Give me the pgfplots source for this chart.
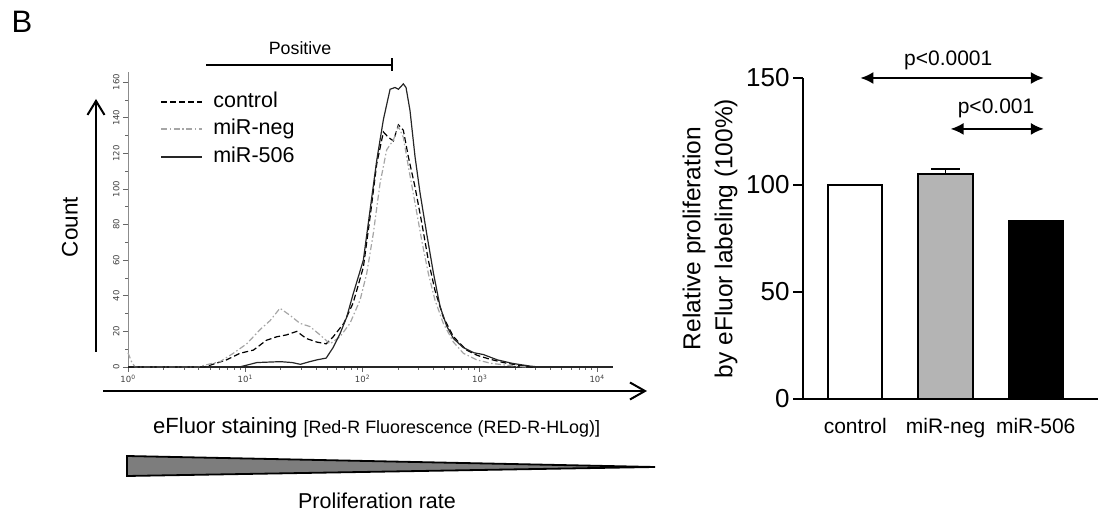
\documentclass[border=0pt]{standalone}
\usepackage{fontspec}
\setmainfont{Liberation Sans}
\newfontfamily\dejavu{DejaVu Sans}
\usepackage{pgfplots}
\usepackage{pgfplotstable}
\pgfplotsset{compat=1.18}
\usetikzlibrary{arrows.meta}

\definecolor{negfill}{HTML}{B4B4B4}
\definecolor{neggray}{HTML}{A6A6A6}
\definecolor{trifill}{HTML}{7D7D7D}

% histogram data: lx = log10(fluorescence), y = count
\pgfplotstableread{
lx y
0 0
0.65 0
0.70 1
0.84 4
0.955 7.7
1.07 9.5
1.18 15
1.27 17
1.35 18
1.44 20
1.52 16
1.61 14
1.69 13
1.75 17
1.84 24.5
1.92 36
2.007 56
2.064 84
2.121 114
2.178 132
2.22 129
2.263 127
2.306 136
2.348 133
2.391 118
2.448 101
2.505 81
2.561 60
2.618 43
2.689 28
2.775 17
2.888 9.5
2.98 6.5
3.08 4.5
3.2 2.5
3.33 1
3.45 0
}\ctrldata

\pgfplotstableread{
lx y
0 8
0.03 3
0.06 0
0.6 0
0.65 1
0.785 3
0.898 7.7
1.012 13
1.126 21
1.211 26
1.296 33
1.382 29
1.467 24.5
1.552 22.7
1.638 18
1.723 13
1.808 17
1.893 24.5
1.979 37.6
2.036 52.6
2.092 75
2.149 103
2.206 122
2.263 127.5
2.306 135
2.348 129
2.391 112.5
2.448 92
2.505 71
2.561 52.6
2.618 37.6
2.689 24.5
2.775 14
2.86 7.7
2.974 4
3.1 2
3.3 0.5
3.4 0
}\negdata

\pgfplotstableread{
lx y
0 0
0.95 0
1.01 1
1.10 2.5
1.30 3
1.40 2.5
1.47 1.5
1.55 3
1.61 4
1.69 5
1.75 11
1.81 19
1.865 28
1.92 41
2.007 60
2.064 88
2.121 116
2.178 139
2.235 156
2.277 157
2.306 156
2.348 159
2.371 157
2.405 144
2.448 118
2.49 98
2.547 75
2.604 53
2.661 34
2.718 23
2.775 16
2.857 11
2.95 8
3.03 7
3.15 4
3.28 2
3.43 0.5
3.5 0
}\mirdata

\begin{document}
\begin{tikzpicture}
\path[use as bounding box] (0pt,0pt) rectangle (1104pt,519pt);

\node[font=\fontsize{31}{34}\selectfont] at (22pt,497pt) {B};

% ---- histogram ----
\begin{axis}[
  at={(128pt,152pt)}, anchor=south west,
  scale only axis, width=485pt, height=295pt,
  xmin=0, xmax=4.136, ymin=0, ymax=165.7,
  axis x line=bottom, axis y line=left, axis line style={-},
  x axis line style={black!85, line width=1.3pt},
  y axis line style={black!45, line width=0.8pt},
  xtick={0,1,2,3,4},
  xticklabels={10\textsuperscript{0},10\textsuperscript{1},10\textsuperscript{2},10\textsuperscript{3},10\textsuperscript{4}},
  minor xtick={0.301,0.477,0.602,0.699,0.778,0.845,0.903,0.954,
               1.301,1.477,1.602,1.699,1.778,1.845,1.903,1.954,
               2.301,2.477,2.602,2.699,2.778,2.845,2.903,2.954,
               3.301,3.477,3.602,3.699,3.778,3.845,3.903,3.954},
  ytick={0,20,...,160}, minor ytick={10,30,...,150},
  tick align=outside,
  major tick length=5pt, minor tick length=3pt,
  tick style={black!60, line width=0.6pt},
  /pgf/number format/assume math mode=true,
  tick label style={font=\dejavu\fontsize{8.5}{9}\selectfont, text=black!75},
  yticklabel style={rotate=90, anchor=south},
  clip=false,
  legend style={draw=none, fill=none, at={(axis description cs:0.06,0.945)},
    anchor=north west, font=\fontsize{21.5}{24}\selectfont,
    nodes={text height=16pt, text depth=5pt, inner sep=1pt}, row sep=4.5pt,
    /tikz/every odd column/.style={column sep=9pt}},
  legend cell align=left,
  legend image code/.code={\draw[#1, line width=2pt] (0pt,0pt) -- (41pt,0pt);},
]
\addplot[black, line width=1.2pt, dash pattern=on 6pt off 3pt] table[x=lx, y=y] {\ctrldata};
\addlegendentry{control}
\addplot[neggray, line width=1.2pt, dash pattern=on 6pt off 2.5pt on 1.5pt off 2.5pt] table[x=lx, y=y] {\negdata};
\addlegendentry{miR-neg}
\addplot[black!85, line width=1.2pt] table[x=lx, y=y] {\mirdata};
\addlegendentry{miR-506}
\end{axis}

\node[font=\fontsize{17.8}{20}\selectfont] at (300pt,471pt) {Positive};
\draw[line width=1.8pt] (206pt,454pt) -- (392pt,454pt);
\draw[line width=1.8pt] (392pt,448pt) -- (392pt,461pt);

\draw[line width=2pt, -{Straight Barb[length=14pt,width=17pt]}] (96pt,167pt) -- (96pt,420pt);
\node[rotate=90, font=\fontsize{22.5}{26}\selectfont] at (70pt,292pt) {Count};

\draw[line width=2pt, -{Straight Barb[length=15pt,width=17pt]}] (103pt,128pt) -- (647pt,128pt);
\node[anchor=base west, inner sep=0pt] at (153pt,85pt)
  {\fontsize{22}{26}\selectfont eFluor staining \fontsize{17.9}{20}\selectfont[Red-R Fluorescence (RED-R-HLog)]};

\draw[line width=1.8pt, fill=trifill] (127pt,63pt) -- (655pt,52pt) -- (127pt,43pt) -- cycle;
\node[anchor=base, inner sep=0pt, font=\fontsize{21.5}{24}\selectfont] at (377pt,10pt) {Proliferation rate};

% ---- bar chart ----
\begin{axis}[
  at={(803pt,120pt)}, anchor=south west,
  scale only axis, width=295pt, height=321pt,
  xmin=-0.58, xmax=2.69, ymin=0, ymax=150,
  axis x line=bottom, axis y line=left, axis line style={-, line width=2pt},
  ytick={0,50,100,150},
  xtick={0,1,2}, xticklabels={control,miR-neg,miR-506},
  tick align=outside, major tick length=10pt,
  ytick style={line width=2pt, black},
  xtick style={draw=none},
  /pgf/number format/assume math mode=true,
  yticklabel style={font=\fontsize{26}{30}\selectfont},
  xticklabel style={font=\fontsize{21}{25}\selectfont, yshift=-6pt},
  ylabel={Relative proliferation\\by eFluor labeling (100\%)},
  ylabel style={align=center, font=\fontsize{24.5}{32}\selectfont,
    at={(axis description cs:-0.315,0.5)}, anchor=center},
  ybar, bar width=0.6, bar shift=0pt,
  clip=false,
]
\addplot[draw=black, line width=2pt, fill=white] coordinates {(0,100)};
\addplot[draw=black, line width=2pt, fill=negfill,
  error bars/.cd, y dir=plus, y explicit,
  error bar style={line width=1.8pt},
  error mark options={rotate=90, line width=1.8pt, mark size=14.5pt}]
  coordinates {(1,105.1) +- (0,2.2)};
\addplot[draw=black, line width=2pt, fill=black] coordinates {(2,83.3)};

\draw[line width=2pt, {Latex[length=13pt,width=12pt]}-{Latex[length=13pt,width=12pt]}]
  (axis cs:0.056,150) -- (axis cs:2.09,150);
\node[font=\fontsize{21}{24}\selectfont] at (axis cs:1.03,158.4) {p<0.0001};
\draw[line width=2pt, {Latex[length=13pt,width=12pt]}-{Latex[length=13pt,width=12pt]}]
  (axis cs:1.056,126.2) -- (axis cs:2.09,126.2);
\node[font=\fontsize{21}{24}\selectfont] at (axis cs:1.56,136) {p<0.001};
\end{axis}
\end{tikzpicture}
\end{document}
